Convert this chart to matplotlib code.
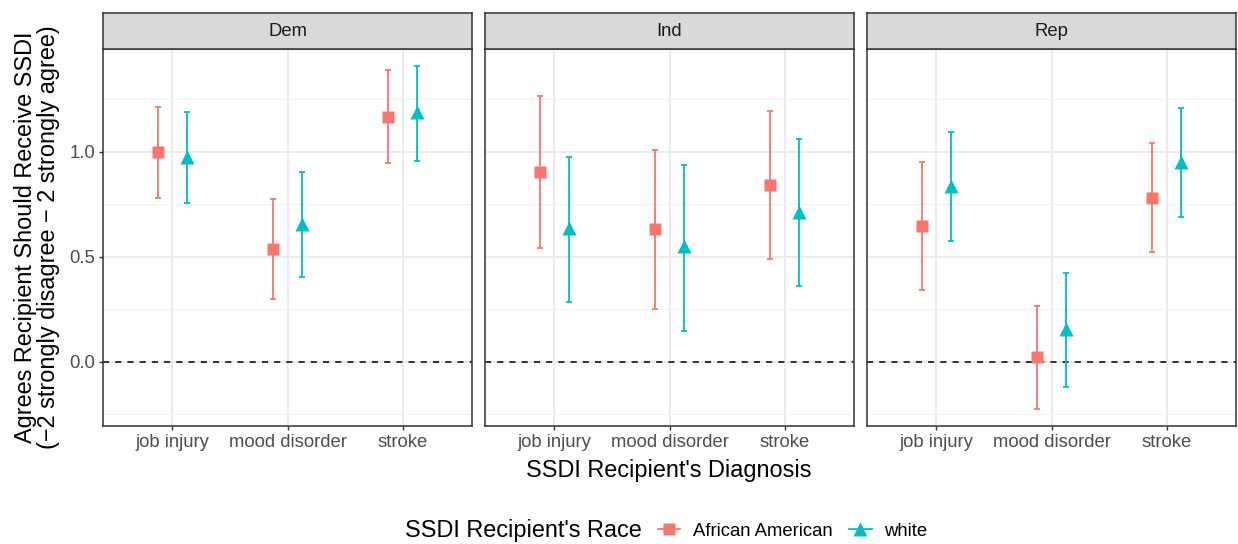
import matplotlib.pyplot as plt
from matplotlib.lines import Line2D
import numpy as np

plt.rcParams['font.family'] = ['Liberation Sans', 'DejaVu Sans']

# 数据
parties = ["Dem", "Ind", "Rep"]
diagnoses = ["job injury", "mood disorder", "stroke"]
races = ["African American", "white"]

# 均值 / 下限 / 上限 (按 diagnosis 顺序)
aa_mean = {"Dem": [1.00, 0.538, 1.167], "Ind": [0.905, 0.633, 0.843], "Rep": [0.648, 0.024, 0.781]}
aa_lo = {"Dem": [0.781, 0.300, 0.948], "Ind": [0.543, 0.252, 0.490], "Rep": [0.343, -0.224, 0.524]}
aa_hi = {"Dem": [1.214, 0.776, 1.390], "Ind": [1.267, 1.010, 1.195], "Rep": [0.952, 0.267, 1.043]}

wh_mean = {"Dem": [0.976, 0.657, 1.190], "Ind": [0.638, 0.552, 0.714], "Rep": [0.838, 0.157, 0.952]}
wh_lo = {"Dem": [0.757, 0.405, 0.957], "Ind": [0.286, 0.148, 0.362], "Rep": [0.576, -0.119, 0.690]}
wh_hi = {"Dem": [1.190, 0.905, 1.410], "Ind": [0.976, 0.938, 1.062], "Rep": [1.095, 0.424, 1.210]}

colors = ["#F8766D", "#00BFC4"]
markers = ["s", "^"]
msizes = [8.6, 10.5]

fig = plt.figure(figsize=(12.38, 5.44), dpi=100)

W, H = 1238, 544
lefts = [103, 485, 867]
pw = 369
top, bot = 49, 426
strip_top = 13

x = np.arange(1, 4)
dodge = 0.125

for i, party in enumerate(parties):
    ax = fig.add_axes([lefts[i] / W, 1 - bot / H, pw / W, (bot - top) / H])
    ax.set_xlim(0.4, 3.6)
    ax.set_ylim(-0.305, 1.49)
    ax.set_yticks([0.0, 0.5, 1.0])
    ax.set_yticks([-0.25, 0.25, 0.75, 1.25], minor=True)
    ax.set_xticks(x)
    ax.set_xticklabels(diagnoses)
    ax.grid(which='major', color='#EBEBEB', lw=1.4, zorder=0)
    ax.grid(which='minor', axis='y', color='#F2F2F2', lw=0.8, zorder=0)
    ax.set_axisbelow(True)
    ax.tick_params(axis='both', which='major', length=3, width=1, color='#333333',
                   labelcolor='#4D4D4D', labelsize=13.3, pad=2.5)
    ax.tick_params(which='minor', length=0)
    if i > 0:
        ax.tick_params(axis='y', labelleft=False, length=0)
    else:
        ax.set_yticklabels(["0.0", "0.5", "1.0"])
    for s in ax.spines.values():
        s.set_color('#333333')
        s.set_linewidth(1.1)

    ax.axhline(0, color='black', lw=1.1, ls=(0, (4, 4)), zorder=1)

    series = [(aa_mean, aa_lo, aa_hi), (wh_mean, wh_lo, wh_hi)]
    for j, (m, lo, hi) in enumerate(series):
        mm = np.array(m[party])
        yerr = [mm - np.array(lo[party]), np.array(hi[party]) - mm]
        xx = x + (-dodge if j == 0 else dodge)
        ax.errorbar(xx, mm, yerr=yerr, fmt='none', ecolor=colors[j], elinewidth=1.3,
                    capsize=2.3, capthick=1.3, zorder=2)
        ax.plot(xx, mm, ls='none', marker=markers[j], ms=msizes[j], color=colors[j],
                mec='none', zorder=3)

    # 分面标签
    sax = fig.add_axes([lefts[i] / W, 1 - top / H, pw / W, (top - strip_top) / H])
    sax.set_facecolor('#D9D9D9')
    sax.set_xticks([])
    sax.set_yticks([])
    for s in sax.spines.values():
        s.set_color('#333333')
        s.set_linewidth(1.1)
    sax.text(0.5, 0.5, party, ha='center', va='center', fontsize=13.3, color='#1A1A1A',
             transform=sax.transAxes)

fig.text(37 / W, 1 - 237.5 / H,
         "Agrees Recipient Should Receive SSDI\n(−2 strongly disagree − 2 strongly agree)",
         rotation=90, ha='center', va='center', fontsize=16.9, color='black',
         multialignment='center', linespacing=0.95)
fig.text(669 / W, 1 - 470 / H, "SSDI Recipient's Diagnosis", ha='center', va='center',
         fontsize=16.9, color='black')

# 图例
fig.text(405 / W, 1 - 531 / H, "SSDI Recipient's Race", ha='left', va='center',
         fontsize=16.9, color='black')
handles = [Line2D([0], [0], color=colors[k], marker=markers[k], ms=msizes[k], mec='none', lw=1.3)
           for k in range(2)]
fig.legend(handles, races, loc='center left', bbox_to_anchor=(658 / W, 1 - 531 / H), ncol=2,
           frameon=False, fontsize=13.3, handlelength=1.2, handletextpad=0.7,
           columnspacing=0.9, borderpad=0, borderaxespad=0)

plt.savefig("out.png", dpi=100)
